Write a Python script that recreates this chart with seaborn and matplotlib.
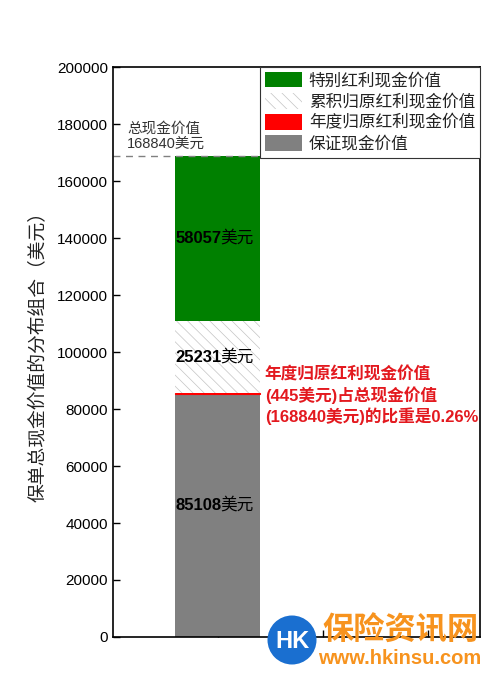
import numpy as np
import pandas as pd
import matplotlib
matplotlib.use("Agg")
import matplotlib.pyplot as plt
import matplotlib.patches as mpatches
import seaborn as sns

# data (bottom to top)
segments = ['保证现金价值', '年度归原红利现金价值', '累积归原红利现金价值', '特别红利现金价值']
values = [85108, 445, 25231, 58057]
colors = ['#808080', '#ff0000', '#ffffff', '#008000']
hatches = [None, None, '\\\\\\', None]
total = 168840
yticks = [0, 20000, 40000, 60000, 80000, 100000, 120000, 140000, 160000, 180000, 200000]

sns.set_theme(style="white")
plt.rcParams['font.family'] = ['Liberation Sans', 'Noto Sans CJK SC', 'DejaVu Sans']
plt.rcParams['hatch.linewidth'] = 0.5

fig = plt.figure(figsize=(4.9, 6.73), dpi=100)
ax = fig.add_axes([0.2306, 0.0535, 0.749, 0.8469])

# stacked bar built segment by segment
base = 0
for name, v, c, h in zip(segments, values, colors, hatches):
    if h:
        ec, lw = '#c4c4c4', 0
    elif c == '#ff0000':
        ec, lw = c, 0.8
    else:
        ec, lw = c, 0
    sns.barplot(x=['a'], y=[v], bottom=base, color=c, saturation=1, width=0.81, ax=ax,
                edgecolor=ec, linewidth=lw, hatch=h)
    base += v

# value labels inside bar: bold number + 美元
label_frac = {0: 0.544, 2: 0.5, 3: 0.5}
cum = np.concatenate([[0], np.cumsum(values)])
for i, frac in label_frac.items():
    yy = cum[i] + values[i] * frac
    ax.annotate(str(values[i]), (0, yy), xytext=(3, 0), textcoords='offset points',
                ha='right', va='center', fontsize=12, fontweight='bold', color='black')
    ax.annotate('美元', (0, yy), xytext=(1.5, 0), textcoords='offset points',
                ha='left', va='center', fontsize=12, color='black',
                family=['Noto Sans CJK SC', 'DejaVu Sans'])

# total line
ax.axhline(total, color='#808080', linestyle=(0, (5, 4)), linewidth=1)
ax.text(-0.867, total + 1700, '总现金价值\n%d美元' % total, ha='left', va='bottom',
        fontsize=10.5, color='#333333', linespacing=1.15)

# red note
pct = values[1] / total * 100
ax.text(0.448, 95000, '年度归原红利现金价值\n(%d美元)占总现金价值\n(%d美元)的比重是%.2f%%' % (values[1], total, pct),
        ha='left', va='top', fontsize=12, color='#e3191f', fontweight='bold', linespacing=1.25)

ax.set_xlim(-1, 2.5)
ax.set_ylim(0, 200000)
ax.set_xticks([0, 1, 2])
ax.set_xticklabels([])
ax.set_yticks(yticks)
ax.set_yticklabels([str(t) for t in yticks], fontsize=11, color='black')
ax.set_xlabel('')
ax.set_ylabel('保单总现金价值的分布组合（美元）', fontsize=13.5, color='#222222', labelpad=7)
ax.tick_params(axis='both', direction='in', length=5, width=1, color='black',
               left=True, bottom=True, right=False, top=False)
for s in ax.spines.values():
    s.set_color('black')
    s.set_linewidth(1.2)

# legend in top-down order
order = [3, 2, 1, 0]
handles = [mpatches.Patch(facecolor=colors[i], edgecolor='#c4c4c4' if hatches[i] else colors[i],
                          hatch=hatches[i], linewidth=0, label=segments[i]) for i in order]
leg = ax.legend(handles=handles, loc='upper right', borderaxespad=0, fontsize=12,
                handlelength=2.25, handleheight=1.05, labelspacing=0.22, handletextpad=0.4,
                borderpad=0.3, fancybox=False, framealpha=1, edgecolor='#333333')
leg.get_frame().set_linewidth(0.8)
for t in leg.get_texts():
    t.set_family(['Noto Sans CJK SC', 'DejaVu Sans'])
    t.set_color('#222222')

# watermark
fig.patches.append(mpatches.Ellipse((292 / 490, 1 - 640 / 673), 49 / 490, 49 / 673,
                                    transform=fig.transFigure, facecolor='#1a6fd0',
                                    edgecolor='none', zorder=10))
fig.text(292 / 490, 1 - 641 / 673, 'HK', ha='center', va='center', fontsize=17,
         fontweight='bold', color='white', zorder=11)
fig.text(401 / 490, 1 - 631 / 673, '保险资讯网', ha='center', va='center', fontsize=22.5,
         fontweight='bold', color='#f7931e', family=['Noto Sans CJK SC'], zorder=11)
fig.text(400 / 490, 1 - 658 / 673, 'www.hkinsu.com', ha='center', va='center', fontsize=14.5,
         fontweight='bold', color='#f7931e', zorder=11)

fig.savefig('out.png', dpi=100)
